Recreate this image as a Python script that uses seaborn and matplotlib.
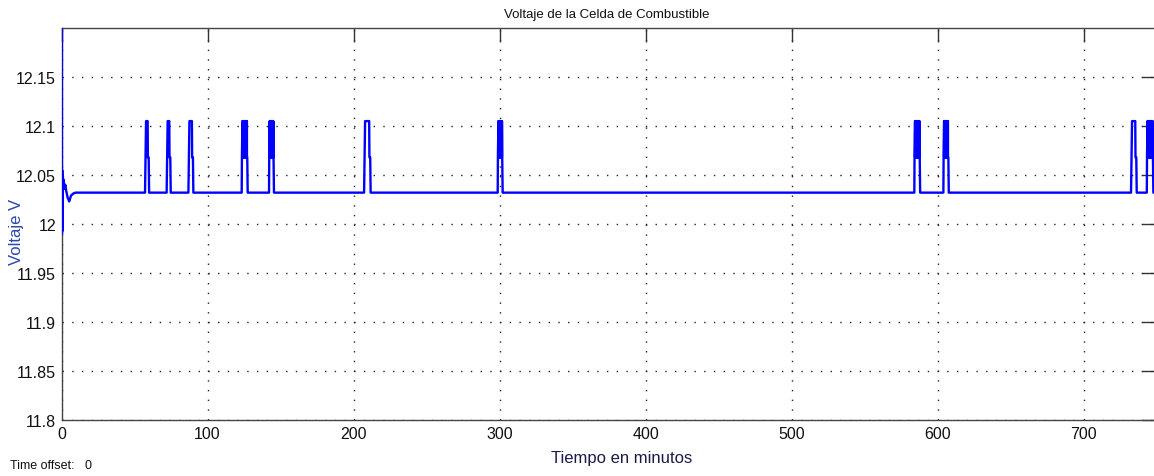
import matplotlib
matplotlib.use("Agg")
import matplotlib.pyplot as plt
import matplotlib.ticker as mticker
import numpy as np
import pandas as pd
import seaborn as sns

# Fuel-cell voltage levels (V)
base_level = 12.032
shoulder_level = 12.068
peak_level = 12.105

# Start-up transient (minutes, volts)
start_t = [0.25, 0.3, 0.5, 0.7, 0.9, 1.1, 1.5, 2.0, 2.6, 3.2, 4.2, 5.3, 6.5, 8.0, 9.5]
start_v = [12.32, 11.99, 12.055, 11.993, 12.05, 12.044, 12.045, 12.036, 12.04, 12.034,
           12.027, 12.023, 12.029, 12.031, 12.032]

# Voltage pulses: start/end time (min) and whether the peak chatters
pulse_start = [57.2, 72.0, 86.9, 123.4, 142.1, 207.2, 298.7, 584.0, 603.9, 732.4, 743.2]
pulse_end = [60.0, 74.8, 90.3, 127.5, 145.5, 211.7, 302.1, 588.0, 607.6, 736.3, 747.7]
pulse_dense = [False, False, False, True, True, False, True, True, True, False, True]

t_end = 749.5

# Assemble the trace from the transient and the pulse events
ts = list(start_t)
vs = list(start_v)
for a, b, dense in zip(pulse_start, pulse_end, pulse_dense):
    ts.append(a); vs.append(base_level)
    if dense:
        ts.append(a + 0.15); vs.append(shoulder_level)
        k = a + 0.5
        hi = True
        while k < b - 0.4:
            ts.append(k); vs.append(peak_level if hi else shoulder_level)
            ts.append(k + 0.01); vs.append(shoulder_level if hi else peak_level)
            hi = not hi
            k += 0.22
        ts.append(b - 0.3); vs.append(shoulder_level)
        ts.append(b); vs.append(base_level)
    else:
        ts.append(a + 0.35); vs.append(shoulder_level)
        ts.append(a + 0.7); vs.append(peak_level)
        ts.append(b - 1.0); vs.append(peak_level)
        ts.append(b - 0.85); vs.append(shoulder_level)
        ts.append(b - 0.3); vs.append(shoulder_level)
        ts.append(b); vs.append(base_level)
ts.append(t_end); vs.append(base_level)

df = pd.DataFrame({"t": ts, "v": vs})

sns.set_theme(style="white")
plt.rcParams["font.family"] = ["Liberation Sans", "DejaVu Sans"]

W, H = 1154, 477
fig = plt.figure(figsize=(W / 100, H / 100), dpi=100)
ax = fig.add_axes([61.5 / W, 56 / H, (1156 - 61.5) / W, 392 / H])

sns.lineplot(data=df, x="t", y="v", sort=False, estimator=None,
             color="#0000ff", linewidth=1.7, ax=ax, zorder=3)

ax.set_xlim(0, t_end)
ax.set_ylim(11.8, 12.2)
ax.set_xticks(np.arange(0, 701, 100))
ax.set_yticks([11.8, 11.85, 11.9, 11.95, 12.0, 12.05, 12.1, 12.15])
ax.yaxis.set_major_formatter(mticker.FuncFormatter(lambda v, p: f"{v:g}"))

ax.grid(True, color="#222222", linestyle=(0, (1, 6)), linewidth=1.0)
ax.tick_params(direction="in", length=10, width=1.0, color="#333333",
               top=True, right=True, labelsize=11.5, labelcolor="#111111", pad=4)
for s in ax.spines.values():
    s.set_color("#444444")
    s.set_linewidth(1.0)

ax.set_xlabel("")
ax.set_ylabel("")

fig.text(607 / W, 1 - 15 / H, "Voltaje de la Celda de Combustible",
         ha="center", va="center", fontsize=9.5, color="#111111")
fig.text(622 / W, 1 - 459 / H, "Tiempo en minutos",
         ha="center", va="center", fontsize=12, color="#1a1a4a")
fig.text(17 / W, 1 - 232 / H, "Voltaje V", rotation=90,
         ha="center", va="center", fontsize=12, color="#2a48a8")
fig.text(10 / W, 1 - 466 / H, "Time offset:   0",
         ha="left", va="center", fontsize=9, color="#111111")

fig.savefig("out.png", dpi=100)
